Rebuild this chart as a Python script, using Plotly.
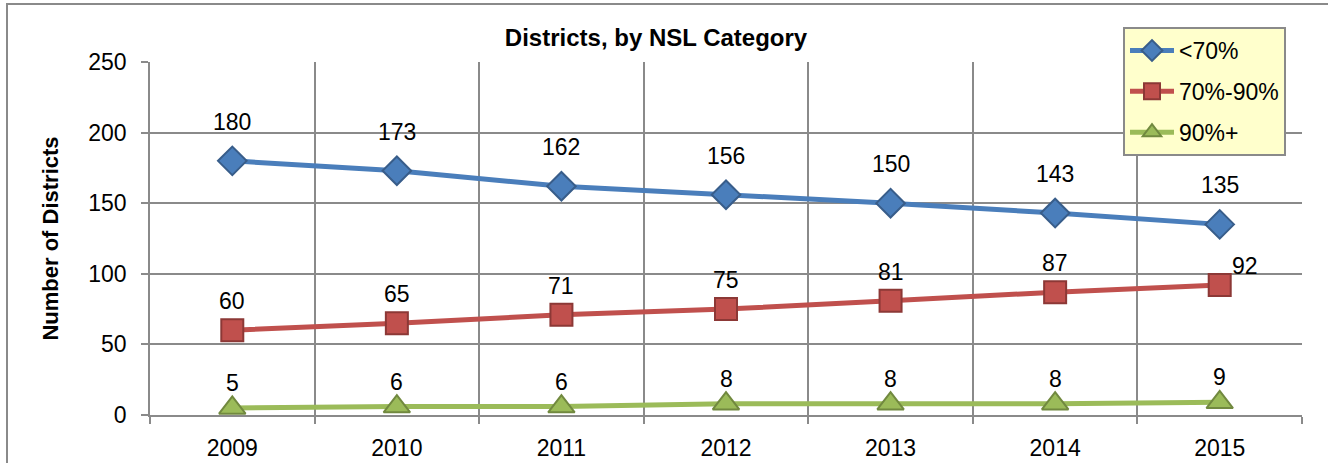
import plotly.graph_objects as go

# Number of districts per NSL category, by school year
years = [2009, 2010, 2011, 2012, 2013, 2014, 2015]
below_70 = [180, 173, 162, 156, 150, 143, 135]
from_70_to_90 = [60, 65, 71, 75, 81, 87, 92]
above_90 = [5, 6, 6, 8, 8, 8, 9]

y_ticks = [0, 50, 100, 150, 200, 250]

FONT = "Liberation Sans, Arial, sans-serif"
GRID = "#8a8a8a"
TXT = 23

series = [
    dict(name="<70%", values=below_70, color="#4A7EBB", edge="#385D8A",
         symbol="diamond", size=22, label_dy=39),
    dict(name="70%-90%", values=from_70_to_90, color="#C0504D", edge="#8C3836",
         symbol="square", size=22, label_dy=29),
    dict(name="90%+", values=above_90, color="#9BBB59", edge="#71893F",
         symbol="triangle-up", size=23, label_dy=25),
]

fig = go.Figure()
annotations = []
for i, s in enumerate(series):
    fig.add_trace(go.Scatter(
        x=years, y=s["values"], name=s["name"], mode="lines+markers",
        legendgroup=f"g{i}",
        line=dict(color=s["color"], width=5),
        marker=dict(symbol=s["symbol"], size=s["size"], color=s["color"],
                    line=dict(color=s["edge"], width=2)),
        hoverinfo="skip",
    ))
    for j, (xv, yv) in enumerate(zip(years, s["values"])):
        dx, dy = 0, s["label_dy"]
        # last label of the middle series sits beside its marker
        if s["name"] == "70%-90%" and j == len(years) - 1:
            dx, dy = 25, 19
        annotations.append(dict(
            x=xv, y=yv, text=str(yv), showarrow=False,
            xshift=dx, yshift=dy,
            font=dict(family=FONT, size=TXT, color="#000000"),
        ))

fig.update_layout(
    width=1328, height=463,
    margin=dict(l=150, r=26, t=62, b=48, autoexpand=False),
    paper_bgcolor="#ffffff", plot_bgcolor="#ffffff",
    font=dict(family=FONT, size=TXT, color="#000000"),
    title=dict(text="<b>Districts, by NSL Category</b>", x=656 / 1328, xref="container",
               xanchor="center", y=1 - 38 / 463, yref="container", yanchor="middle",
               font=dict(family=FONT, size=24, color="#000000")),
    showlegend=True,
    legend=dict(x=(1123 - 150) / 1152, y=(415 - 27) / 353, xanchor="left", yanchor="top",
                bgcolor="#FFFFCC", bordercolor="#8a8a8a", borderwidth=2,
                font=dict(family=FONT, size=TXT, color="#000000"),
                tracegroupgap=8, itemwidth=44),
    annotations=annotations,
    shapes=[dict(type="rect", xref="paper", yref="paper",
                 x0=(7 - 150) / 1152, x1=1.5, y0=-1.0, y1=(415 - 4) / 353,
                 line=dict(color="#8a8a8a", width=2), fillcolor="rgba(0,0,0,0)",
                 layer="below")],
)

fig.update_xaxes(
    range=[2008.5, 2015.5], tickvals=years, ticktext=[str(y) for y in years],
    showgrid=False, ticks="", ticklabelstandoff=12, automargin=False,
    showline=True, linecolor=GRID, linewidth=1.5, mirror=False,
    tickfont=dict(family=FONT, size=TXT, color="#000000"),
    minor=dict(tick0=2008.5, dtick=1, showgrid=True, gridcolor=GRID, gridwidth=1.5,
               ticks="outside", ticklen=7, tickcolor=GRID, tickwidth=1.5),
    zeroline=False,
)
fig.update_yaxes(
    range=[0, 250], tickvals=y_ticks, showgrid=True, gridcolor=GRID, gridwidth=1.5,
    ticks="outside", ticklen=7, tickcolor=GRID, tickwidth=1.5, ticklabelstandoff=10,
    showline=True, linecolor=GRID, linewidth=1.5, zeroline=False, automargin=False,
    tickfont=dict(family=FONT, size=TXT, color="#000000"),
    title=dict(text="<b>Number of Districts</b>", standoff=24,
               font=dict(family=FONT, size=22, color="#000000")),
)

fig.write_html("out.html")
